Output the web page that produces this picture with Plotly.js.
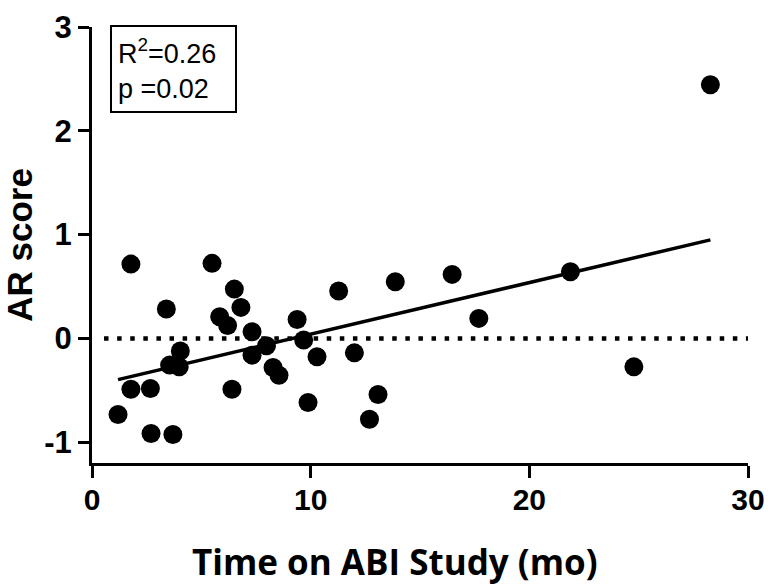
<!DOCTYPE html>
<html>
<head>
<meta charset="utf-8">
<script src="https://cdn.plot.ly/plotly-3.0.1.min.js"></script>
<style>html,body{margin:0;padding:0;background:#fff;}#chart{width:768px;height:585px;}</style>
</head>
<body>
<div id="chart"></div>
<script>
// Time on ABI Study (months) and AR score for each subject
const timeMonths = [1.78, 5.49, 6.51, 6.81, 3.40, 5.84, 6.20, 7.32, 7.98, 7.32,
  8.28, 8.55, 4.04, 3.55, 3.99, 1.78, 2.67, 6.40, 1.19, 2.70,
  3.70, 11.28, 13.87, 16.47, 9.38, 9.68, 10.29, 12.00, 9.88, 13.08,
  12.69, 28.28, 21.88, 17.69, 24.78];
const arScore = [0.716, 0.723, 0.475, 0.299, 0.283, 0.208, 0.125, 0.064, -0.070, -0.161,
  -0.280, -0.354, -0.122, -0.257, -0.274, -0.489, -0.482, -0.489, -0.733, -0.916,
  -0.926, 0.456, 0.546, 0.617, 0.183, -0.016, -0.177, -0.139, -0.617, -0.540,
  -0.778, 2.443, 0.642, 0.193, -0.274];

// Linear fit
const fitSlope = 0.0497;
const fitIntercept = -0.456;
const fitX = [1.19, 28.28];
const fitY = fitX.map(x => fitIntercept + fitSlope * x);

// Zero reference line
const refX = [0.55, 30];
const refY = [0, 0];

const xTicks = [0, 10, 20, 30];
const yTicks = [-1, 0, 1, 2, 3];

const statsText = 'R<sup>2</sup>=0.26<br>p =0.02';
const xTitle = 'Time on ABI Study (mo)';
const yTitle = 'AR score';

const traces = [
  {x: refX, y: refY, mode: 'lines', line: {color: '#000', width: 4.5, dash: '4.5px,8.6px'}, hoverinfo: 'skip', showlegend: false},
  {x: fitX, y: fitY, mode: 'lines', line: {color: '#000', width: 3.5}, hoverinfo: 'skip', showlegend: false},
  {x: timeMonths, y: arScore, mode: 'markers', marker: {color: '#000', size: 19, line: {width: 0}}, showlegend: false}
];

const layout = {
  width: 768, height: 585,
  margin: {l: 92, r: 20, t: 27, b: 122},
  paper_bgcolor: '#fff', plot_bgcolor: '#fff',
  showlegend: false,
  xaxis: {
    range: [0, 30], tickvals: xTicks, ticktext: xTicks.map(String),
    showgrid: false, zeroline: false, showline: true, linecolor: '#000', linewidth: 3,
    ticks: 'outside', ticklen: 12, tickwidth: 3, tickcolor: '#000',
    ticklabelstandoff: -4,
    tickfont: {family: 'Liberation Sans, Arial, sans-serif', size: 30, weight: 700, color: '#000'},
    fixedrange: true
  },
  yaxis: {
    range: [-1.2, 3], tickvals: yTicks, ticktext: yTicks.map(String),
    showgrid: false, zeroline: false, showline: true, linecolor: '#000', linewidth: 3,
    ticks: 'outside', ticklen: 11, tickwidth: 3, tickcolor: '#000',
    tickfont: {family: 'Liberation Sans, Arial, sans-serif', size: 31, weight: 700, color: '#000'},
    title: {text: yTitle, font: {family: 'Liberation Sans, Arial, sans-serif', size: 35, weight: 700, color: '#000'}, standoff: 20},
    fixedrange: true
  },
  annotations: [
    {xref: 'paper', yref: 'paper', x: 0.028, y: 1.005, xanchor: 'left', yanchor: 'top',
     text: statsText, showarrow: false, align: 'left', valign: 'middle',
     font: {family: 'Liberation Sans, Arial, sans-serif', size: 27, color: '#000'},
     bordercolor: '#000', borderwidth: 2, borderpad: 6, width: 111, height: 72, bgcolor: '#fff'},
    {xref: 'paper', yref: 'paper', x: 0.4617, y: -0.225, xanchor: 'center', yanchor: 'middle',
     text: xTitle, showarrow: false,
     font: {family: 'Open Sans, Noto Sans, sans-serif', size: 35, weight: 700, color: '#000'}}
  ]
};

Plotly.newPlot('chart', traces, layout, {displayModeBar: false, staticPlot: true});
</script>
</body>
</html>
